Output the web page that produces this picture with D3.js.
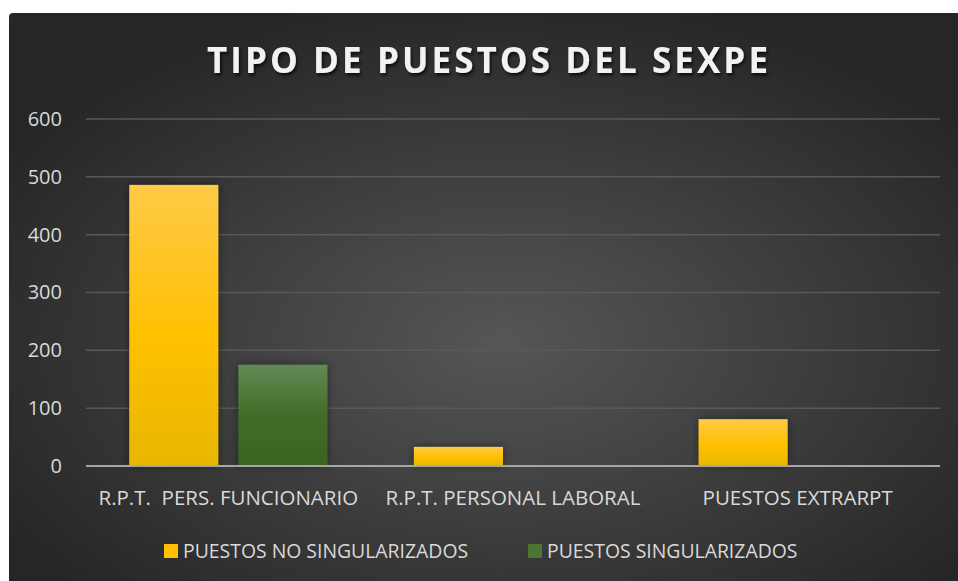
<!DOCTYPE html>
<html>
<head>
<meta charset="utf-8">
<script src="https://cdn.jsdelivr.net/npm/d3@7"></script>
<style>
  html, body { margin: 0; padding: 0; background: #ffffff; }
  svg { display: block; }
  text { font-family: "Open Sans", sans-serif; }
</style>
</head>
<body>
<svg id="chart" width="958" height="581"></svg>
<script>
// chart data
const categories = ['R.P.T.  PERS. FUNCIONARIO', 'R.P.T. PERSONAL LABORAL', 'PUESTOS EXTRARPT'];
const seriesNames = ['PUESTOS NO SINGULARIZADOS', 'PUESTOS SINGULARIZADOS'];
const noSingularizados = [486, 33, 81];
const singularizados = [175, 0, 0];
const yTicks = [0, 100, 200, 300, 400, 500, 600];
const title = 'TIPO DE PUESTOS DEL SEXPE';

const series = [noSingularizados, singularizados];
const width = 958, height = 581;
const plot = { left: 86, right: 940, top: 119, bottom: 466 };

const svg = d3.select('#chart');
const defs = svg.append('defs');

// background gradient
const bg = defs.append('radialGradient').attr('id', 'bg')
  .attr('cx', '52%').attr('cy', '58%').attr('r', '62%');
bg.append('stop').attr('offset', '0%').attr('stop-color', '#565656');
bg.append('stop').attr('offset', '100%').attr('stop-color', '#262626');

// bar gradients
const gradStops = [
  [['0%', '#ffca47'], ['55%', '#ffc000'], ['100%', '#e8b700']],
  [['0%', '#628a55'], ['50%', '#426c28'], ['100%', '#3b6321']]
];
const fillIds = ['g0', 'g1'];
gradStops.forEach((stops, i) => {
  const g = defs.append('linearGradient').attr('id', fillIds[i])
    .attr('x1', 0).attr('y1', 0).attr('x2', 0).attr('y2', 1);
  stops.forEach(s => g.append('stop').attr('offset', s[0]).attr('stop-color', s[1]));
});
const legendColors = ['#ffc000', '#4a7535'];

const shadow = defs.append('filter').attr('id', 'shadow')
  .attr('x', '-30%').attr('y', '-30%').attr('width', '160%').attr('height', '160%');
shadow.append('feDropShadow').attr('dx', 0).attr('dy', 0)
  .attr('stdDeviation', 4).attr('flood-color', '#000').attr('flood-opacity', 0.45);

const tshadow = defs.append('filter').attr('id', 'tshadow')
  .attr('x', '-10%').attr('y', '-30%').attr('width', '120%').attr('height', '160%');
tshadow.append('feDropShadow').attr('dx', 1.5).attr('dy', 2.5)
  .attr('stdDeviation', 1.5).attr('flood-color', '#000').attr('flood-opacity', 0.7);

svg.append('path')
  .attr('d', `M9,17 Q9,13 13,13 L${width},13 L${width},${height} L9,${height} Z`)
  .attr('fill', 'url(#bg)');

// scales
const y = d3.scaleLinear().domain([0, 600]).range([plot.bottom, plot.top]);
const x0 = d3.scaleBand().domain(categories).range([plot.left, plot.right]);
const outer = x0.bandwidth() * 0.152;
const x1 = d3.scaleBand().domain(seriesNames)
  .range([outer, x0.bandwidth() - outer]).paddingInner(0.1835);

// gridlines
svg.append('g')
  .selectAll('line')
  .data(yTicks.filter(d => d > 0))
  .enter()
  .append('line')
  .attr('x1', plot.left).attr('x2', plot.right)
  .attr('y1', d => y(d)).attr('y2', d => y(d))
  .attr('stroke', '#595959').attr('stroke-width', 1.5);

// y axis labels
const yAxis = svg.append('g')
  .attr('transform', `translate(${plot.left},0)`)
  .call(d3.axisLeft(y).tickValues(yTicks).tickSize(0).tickPadding(24));
yAxis.select('.domain').remove();
yAxis.selectAll('text')
  .attr('fill', '#d9d9d9')
  .style('font-size', '20px')
  .style('font-family', '"Open Sans", sans-serif');

// bars
const groups = svg.append('g')
  .selectAll('g')
  .data(categories)
  .enter()
  .append('g')
  .attr('transform', d => `translate(${x0(d)},0)`);

groups.selectAll('rect')
  .data((d, ci) => seriesNames.map((s, si) => ({ s, si, v: series[si][ci] })).filter(d => d.v > 0))
  .enter()
  .append('rect')
  .attr('x', d => x1(d.s))
  .attr('width', x1.bandwidth())
  .attr('y', d => y(d.v))
  .attr('height', d => y(0) - y(d.v))
  .attr('fill', d => `url(#${fillIds[d.si]})`)
  .attr('filter', 'url(#shadow)');

// x axis
svg.append('line')
  .attr('x1', plot.left).attr('x2', plot.right)
  .attr('y1', y(0)).attr('y2', y(0))
  .attr('stroke', '#a6a6a6').attr('stroke-width', 2);

svg.append('g')
  .selectAll('text')
  .data(categories)
  .enter()
  .append('text')
  .attr('x', d => x0(d) + x0.bandwidth() / 2)
  .attr('y', 505)
  .attr('text-anchor', 'middle')
  .attr('fill', '#d9d9d9')
  .style('font-size', '20.5px')
  .style('white-space', 'pre')
  .text(d => d);

// legend
const legendX = [164, 528];
const legend = svg.append('g')
  .selectAll('g')
  .data(seriesNames)
  .enter()
  .append('g')
  .attr('transform', (d, i) => `translate(${legendX[i]},544)`);
legend.append('rect')
  .attr('width', 14).attr('height', 14)
  .attr('fill', (d, i) => legendColors[i]);
legend.append('text')
  .attr('x', 19).attr('y', 14)
  .attr('fill', '#d9d9d9')
  .style('font-size', '19.4px')
  .text(d => d);

// title, spaced out to the reference width
const t = svg.append('text')
  .attr('y', 73)
  .attr('fill', '#f2f2f2')
  .attr('filter', 'url(#tshadow)')
  .style('font-size', '35px')
  .style('font-weight', 700)
  .text(title);
const w0 = t.node().getComputedTextLength();
const ls = (561 - w0) / (title.length - 1);
t.style('letter-spacing', ls + 'px').attr('x', 207);
</script>
</body>
</html>
